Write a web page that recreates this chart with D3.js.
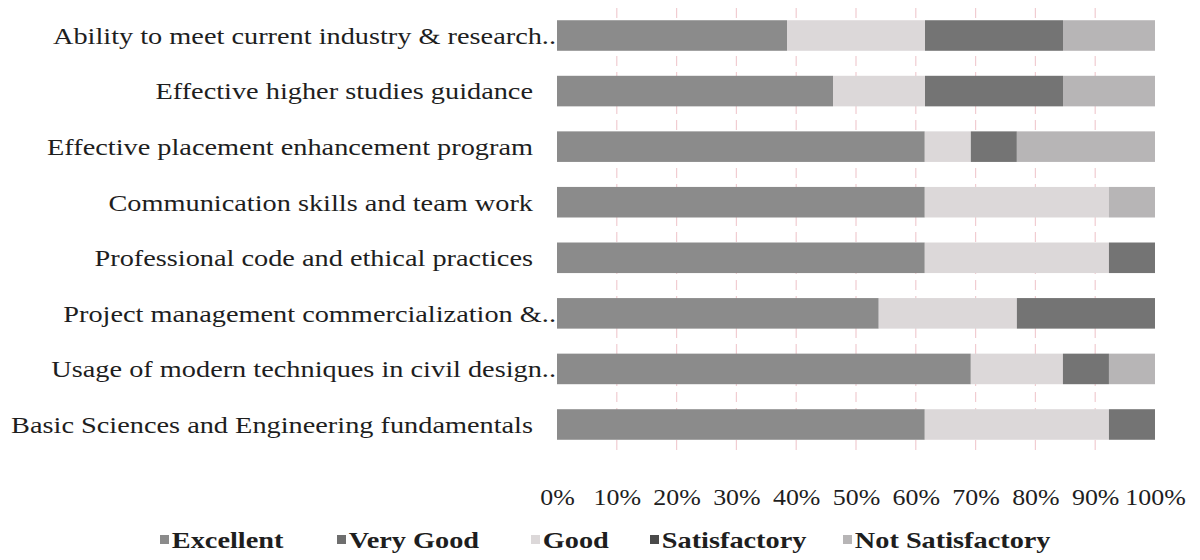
<!DOCTYPE html>
<html>
<head>
<meta charset="utf-8">
<script src="https://cdn.jsdelivr.net/npm/d3@7"></script>
<style>
  body { margin: 0; background: #fff; }
  svg text { font-family: "Liberation Serif", "DejaVu Serif", serif; fill: #1e1e1e; }
</style>
</head>
<body>
<svg id="chart" width="1200" height="560"></svg>
<script>
var categories = [
  "Ability to meet current industry & research..",
  "Effective higher studies guidance",
  "Effective placement enhancement program",
  "Communication skills and team work",
  "Professional code and ethical practices",
  "Project management commercialization &..",
  "Usage of modern techniques  in civil design..",
  "Basic Sciences and Engineering fundamentals"
];
var seriesNames = ["Excellent", "Very Good", "Good", "Satisfactory", "Not Satisfactory"];
// percent of respondents
var excellent       = [38.5, 46.2, 61.5, 61.5, 61.5, 53.8, 69.2, 61.5];
var veryGood        = [0, 0, 0, 0, 0, 0, 0, 0];
var good            = [23.1, 15.4, 7.7, 30.8, 30.8, 23.1, 15.4, 30.8];
var satisfactory    = [23.1, 23.1, 7.7, 0, 7.7, 23.1, 7.7, 7.7];
var notSatisfactory = [15.4, 15.4, 23.1, 7.7, 0, 0, 7.7, 0];
var tickValues = [0, 0.1, 0.2, 0.3, 0.4, 0.5, 0.6, 0.7, 0.8, 0.9, 1];

var colors = ["#8b8b8b", "#7e7e7e", "#dcd8d9", "#747474", "#b7b5b6"];

var svg = d3.select("#chart");

var rows = categories.map(function(c, i) {
  return {cat: c, "Excellent": excellent[i], "Very Good": veryGood[i], "Good": good[i],
          "Satisfactory": satisfactory[i], "Not Satisfactory": notSatisfactory[i]};
});

var stack = d3.stack().keys(seriesNames).offset(d3.stackOffsetExpand);
var layers = stack(rows);

var x = d3.scaleLinear().domain([0, 1]).range([557, 1155]);
var y = d3.scaleBand().domain(categories).range([8, 452]).paddingInner(0.45).paddingOuter(0.22);
var color = d3.scaleOrdinal().domain(seriesNames).range(colors);

// faint gridlines (show only between bars)
svg.append("g")
  .selectAll("line")
  .data(tickValues.slice(1, 10))
  .enter().append("line")
  .attr("x1", function(d) { return x(d); })
  .attr("x2", function(d) { return x(d); })
  .attr("y1", 8)
  .attr("y2", 452)
  .attr("stroke", "#f1ccd1")
  .attr("stroke-width", 1.2)
  .attr("stroke-dasharray", "10,6");

svg.append("g")
  .selectAll("g")
  .data(layers)
  .enter().append("g")
  .attr("fill", function(d) { return color(d.key); })
  .selectAll("rect")
  .data(function(d) { return d; })
  .enter().append("rect")
  .attr("x", function(d) { return x(d[0]); })
  .attr("y", function(d) { return y(d.data.cat); })
  .attr("width", function(d) { return Math.max(0, x(d[1]) - x(d[0])); })
  .attr("height", y.bandwidth());

// category labels (scan is stretched sideways, so stretch the text too)
svg.append("g")
  .selectAll("text")
  .data(categories)
  .enter().append("text")
  .attr("text-anchor", "end")
  .attr("font-size", 24)
  .attr("dy", "0.35em")
  .attr("transform", function(d, i) {
    var right = i == 0 || i == 5 || i == 6 ? 556 : 533;
    return "translate(" + right + "," + (y(d) + y.bandwidth() / 2) + ") scale(1.18,1)";
  })
  .text(function(d) { return d; });

// bottom axis
var axis = svg.append("g")
  .attr("transform", "translate(0,497)")
  .call(d3.axisBottom(x).tickValues(tickValues).tickSize(0).tickPadding(0)
        .tickFormat(d3.format(".0%")));
axis.select(".domain").remove();
axis.selectAll(".tick text")
  .attr("font-size", 24)
  .attr("font-family", "Liberation Serif")
  .attr("fill", "#1e1e1e")
  .attr("dy", "0.35em")
  .attr("y", 0)
  .attr("transform", "scale(1.08,1)");

// legend
var legendX = [160, 337, 531, 650, 843];
var legend = svg.append("g")
  .selectAll("g")
  .data(seriesNames)
  .enter().append("g")
  .attr("transform", function(d, i) { return "translate(" + legendX[i] + ",541)"; });
legend.append("rect")
  .attr("x", 0).attr("y", -6)
  .attr("width", 9).attr("height", 9)
  .attr("fill", function(d) { return d == "Satisfactory" ? "#4a4a4a" : d == "Very Good" ? "#6e6e6e" : color(d); });
legend.append("text")
  .attr("dy", "0.3em")
  .attr("font-size", 24)
  .attr("font-weight", "bold")
  .attr("transform", "scale(1.18,1)")
  .attr("x", 10)
  .text(function(d) { return d; });
</script>
</body>
</html>
